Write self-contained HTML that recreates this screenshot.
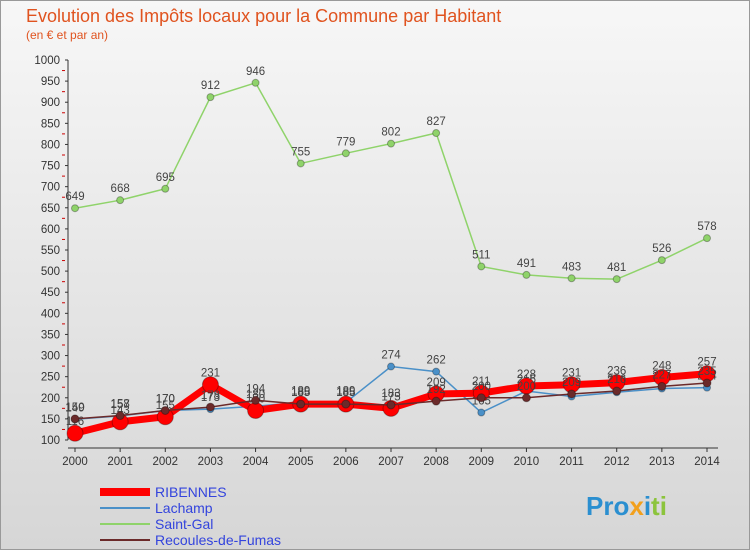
<!DOCTYPE html>
<html><head><meta charset="utf-8"><style>
body{margin:0;background:#fff;font-family:"Liberation Sans",sans-serif}
</style></head><body>
<svg width="750" height="550" xmlns="http://www.w3.org/2000/svg">
<defs><linearGradient id="bg" x1="0" y1="0" x2="0" y2="1"><stop offset="0" stop-color="#f7f7f7"/><stop offset="1" stop-color="#d6d6d6"/></linearGradient></defs>
<rect x="0.5" y="0.5" width="749" height="549" fill="url(#bg)" stroke="#999"/>
<text x="26" y="22" font-size="18" fill="#e0531f">Evolution des Impôts locaux pour la Commune par Habitant</text>
<text x="26" y="39" font-size="12" fill="#e0531f">(en € et par an)</text>
<g id="axes"></g><g id="series"></g>
<g font-size="14">
<line x1="100" y1="492" x2="150" y2="492" stroke="#f00" stroke-width="8"/>
<text x="155" y="497" fill="#3344dd">RIBENNES</text>
<line x1="100" y1="508" x2="150" y2="508" stroke="#4a90c8" stroke-width="2"/>
<text x="155" y="513" fill="#3344dd">Lachamp</text>
<line x1="100" y1="524" x2="150" y2="524" stroke="#8fd36a" stroke-width="2"/>
<text x="155" y="529" fill="#3344dd">Saint-Gal</text>
<line x1="100" y1="540" x2="150" y2="540" stroke="#6b2a2a" stroke-width="2"/>
<text x="155" y="545" fill="#3344dd">Recoules-de-Fumas</text>
</g>
<text x="586" y="515" font-size="26" font-weight="bold"><tspan fill="#2b8fd0">Pro</tspan><tspan fill="#f2a01c">x</tspan><tspan fill="#2b8fd0">i</tspan><tspan fill="#8cc43c">ti</tspan></text>
</svg>
<script>
const years=[2000,2001,2002,2003,2004,2005,2006,2007,2008,2009,2010,2011,2012,2013,2014];
const yTicks=[100,150,200,250,300,350,400,450,500,550,600,650,700,750,800,850,900,950,1000];
const ribennes=[116,143,155,231,170,185,185,175,209,211,228,231,236,248,257];
const lachamp=[149,157,170,173,180,189,189,274,262,165,216,203,213,222,224];
const saintGal=[649,668,695,912,946,755,779,802,827,511,491,483,481,526,578];
const recoules=[150,158,170,178,194,185,185,183,192,200,200,209,216,227,235];
const NS="http://www.w3.org/2000/svg";
const x=i=>75+i*(632/14);
const y=v=>440-(v-100)*(380/900);
function mk(tag,attrs,parent){const e=document.createElementNS(NS,tag);for(const k in attrs)e.setAttribute(k,attrs[k]);parent.appendChild(e);return e;}
const ax=document.getElementById('axes');
yTicks.forEach(t=>{
 const l=mk('line',{x1:65,x2:68,y1:y(t),y2:y(t),stroke:'#333'},ax);
 
 
 const tx=mk('text',{x:60,y:y(t)+4,'font-size':11.5,'text-anchor':'end',fill:'#333'},ax);
 tx.textContent=t;
 
 
});
for(let t=125;t<1000;t+=50){const m=mk('line',{x1:62,x2:65,y1:y(t),y2:y(t),stroke:'#c00'},ax);
 
 }
const ya=mk('line',{x1:68,x2:68,y1:y(1000),y2:y(100),stroke:'#333'},ax);


const xa=mk('line',{x1:68,x2:718,y1:448,y2:448,stroke:'#333'},ax);


years.forEach((yr,i)=>{
 const l=mk('line',{x1:x(i),x2:x(i),y1:448,y2:452,stroke:'#333'},ax);
 
 
 const tx=mk('text',{x:x(i),y:465,'font-size':11.5,'text-anchor':'middle',fill:'#333'},ax);
 tx.textContent=yr;
 
 
});
const sg=document.getElementById('series');
function series(vals,name,color,w,r,labels){
 const g=mk('g',{},sg);
 
 
 const p=mk('polyline',{points:vals.map((v,i)=>x(i)+','+y(v)).join(' '),fill:'none',stroke:color,'stroke-width':w},g);
 
 
 vals.forEach((v,i)=>{
  const c=mk('circle',{cx:x(i),cy:y(v),r:r,fill:color,stroke:'rgba(0,0,0,0.3)'},g);
  
  
  if(labels){const t=mk('text',{x:x(i),y:y(v)-8,'font-size':11.5,'text-anchor':'middle',fill:'#444'},g);
   t.textContent=v;
   
   }
 });
}
series(saintGal,'saint-gal','#8fd36a',1.5,3.5,true);
series(lachamp,'lachamp','#4a90c8',1.5,3.5,true);
series(ribennes,'ribennes','#f00',7,8,true);
series(recoules,'recoules','#6b2a2a',1.5,4,true);
</script>
</body></html>
